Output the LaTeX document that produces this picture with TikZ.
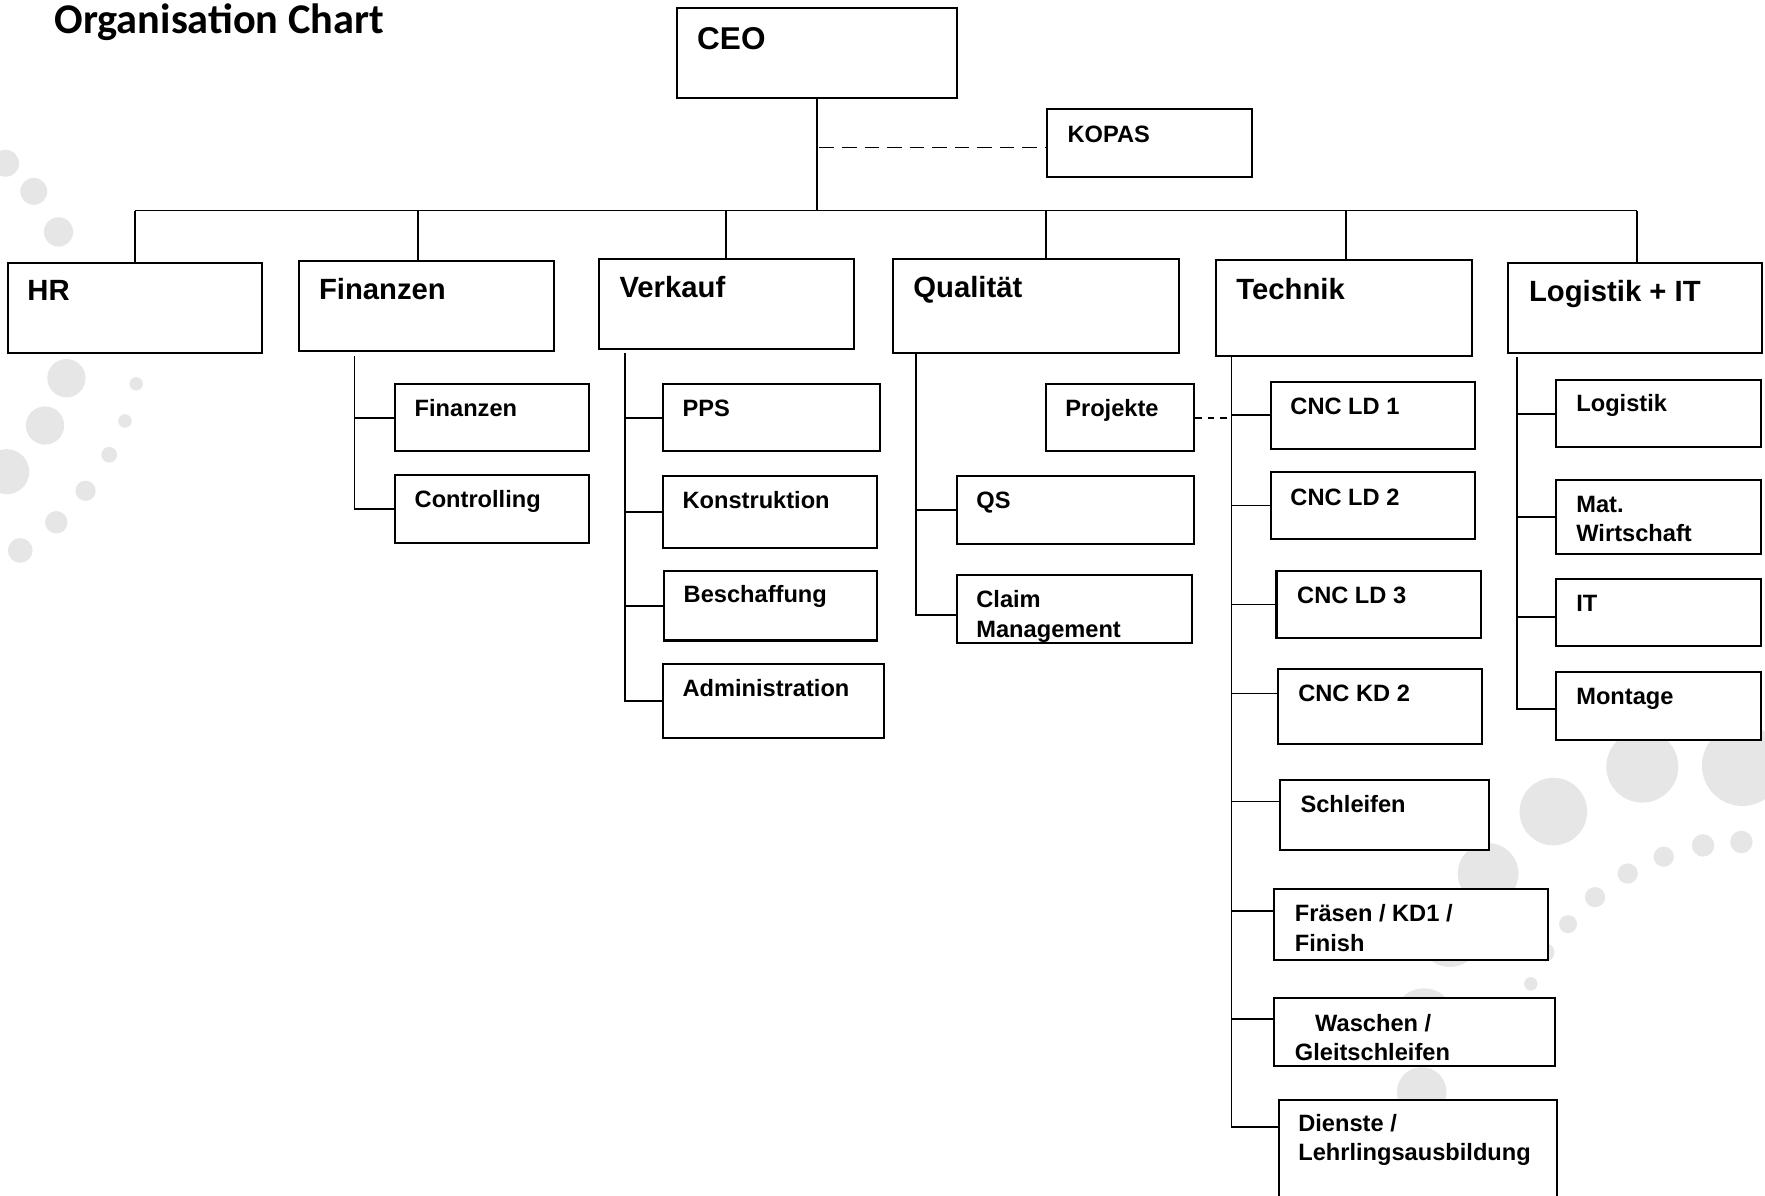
\documentclass[tikz,border=0pt]{standalone}
\usepackage{fontspec}
\setmainfont{Liberation Sans}
\newfontfamily\titlefont{Carlito}
\usetikzlibrary{fit}
\definecolor{dotgray}{HTML}{E6E6E6}
\newcommand\tl[1]{\begin{tabular}[t]{@{}l@{}}#1\end{tabular}}
\tikzset{
  box/.style={draw=black, line width=0.9pt, fill=white, inner sep=0pt},
  ceotxt/.style={anchor=base west, inner sep=0pt, font=\bfseries\fontsize{14}{17}\selectfont},
  head/.style={anchor=base west, inner sep=0pt, font=\bfseries\fontsize{13}{15.6}\selectfont},
  sub/.style={anchor=base west, inner sep=0pt, font=\bfseries\fontsize{10.5}{13}\selectfont},
  conn/.style={line width=0.8pt, draw=black},
  kdash/.style={conn, dash pattern=on 6.5pt off 3.5pt},
  pdash/.style={conn, dash pattern=on 3pt off 2.5pt},
}
\begin{document}
\begin{tikzpicture}[x=0.5pt,y=-0.5pt]
\useasboundingbox (0,0) rectangle (1568,1062);
\clip (0,0) rectangle (1568,1062);
% background dots
\foreach \cx/\cy/\r in {5/145/12, 30/170/12, 52/206/13, 59/336/17, 121/341/6, 40/378/17, 111/374/6, 6/419/20, 97/404/7, 76/436/9, 50/464/10, 18/489/11,
  1459/681/32, 1548/680/36, 1380/721/30, 1322/776/27, 1547/748/10, 1513/751/10, 1478/761/9, 1446/776/9, 1417/797/9, 1393/821/8, 1373/846/8, 1288/832/27, 1360/874/6, 1265/905/27, 1263/970/22}
  \fill[dotgray] (\cx,\cy) circle[radius=\r];

% title
\node[anchor=base west, inner sep=0pt, font=\titlefont\bfseries\fontsize{18.8}{22}\selectfont] (title) at (48,30) {Organisation Chart};

% boxes
\node[box, fit={(601,7)(850,87)}] (ceo) {};
\node[box, fit={(930,97)(1112,157)}] (kopas) {};
\node[box, fit={(7,234)(233,314)}] (hr) {};
\node[box, fit={(266,232)(492,312)}] (fin) {};
\node[box, fit={(532,230)(759,310)}] (vk) {};
\node[box, fit={(793,230)(1047,314)}] (ql) {};
\node[box, fit={(1080,231)(1308,316)}] (tk) {};
\node[box, fit={(1340,234)(1565,314)}] (lg) {};

\node[box, fit={(351,341)(523,401)}] (fsub) {};
\node[box, fit={(351,422)(523,482)}] (ctrl) {};
\node[box, fit={(589,341)(782,401)}] (pps) {};
\node[box, fit={(589,423)(779,487)}] (kon) {};
\node[box, fit={(590,507)(779,569)}] (bes) {};
\node[box, fit={(589,590)(785,656)}] (adm) {};
\node[box, fit={(929,341)(1061,401)}] (proj) {};
\node[box, fit={(850,423)(1061,483)}] (qs) {};
\node[box, fit={(850,511)(1059,571)}] (claim) {};
\node[box, fit={(1129,339)(1310,399)}] (cnc1) {};
\node[box, fit={(1129,419)(1310,479)}] (cnc2) {};
\node[box, fit={(1134,507)(1316,567)}] (cnc3) {};
\node[box, fit={(1135,594)(1317,661)}] (kd2) {};
\node[box, fit={(1137,693)(1323,755)}] (schl) {};
\node[box, fit={(1132,790)(1375,853)}] (fraes) {};
\node[box, fit={(1132,887)(1381,947)}] (wasch) {};
\node[box, fit={(1136,977)(1383,1085)}] (dien) {};
\node[box, fit={(1382,338)(1564,397)}] (logi) {};
\node[box, fit={(1382,426)(1564,492)}] (mat) {};
\node[box, fit={(1382,514)(1564,574)}] (it) {};
\node[box, fit={(1382,597)(1564,657)}] (mont) {};

% connector coordinates
\coordinate (busL) at (120,187);
\coordinate (busR) at (1454,187);
\coordinate (bfin) at (371,187);
\coordinate (bvk) at (645,187);
\coordinate (bql) at (929,187);
\coordinate (btk) at (1196,187);
\coordinate (kd) at (728,131);
\coordinate (finv) at (315,316);
\coordinate (vkv) at (555,314);
\coordinate (qlv) at (814,314);
\coordinate (tkv) at (1094,316);
\coordinate (lgv) at (1348,317);
\coordinate (claimin) at (850,546);
\coordinate (kd2in) at (1135,616);
\coordinate (schlin) at (1137,712);
\coordinate (fraesin) at (1132,809);
\coordinate (waschin) at (1132,905);
\coordinate (dienin) at (1136,1001);
\coordinate (itin) at (1382,548);
\coordinate (montin) at (1382,630);

% top connectors
\draw[conn] (ceo.south) -- (ceo.south |- busL);
\draw[conn] (busL) -- (busR);
\draw[kdash] (kd) -- (kd -| kopas.west);
\draw[conn] (busL) -- (busL |- hr.north);
\draw[conn] (bfin) -- (bfin |- fin.north);
\draw[conn] (bvk) -- (bvk |- vk.north);
\draw[conn] (bql) -- (bql |- ql.north);
\draw[conn] (btk) -- (btk |- tk.north);
\draw[conn] (busR) -- (busR |- lg.north);

% Finanzen
\draw[conn] (finv) |- (ctrl.west);
\draw[conn] (finv |- fsub.west) -- (fsub.west);
% Verkauf
\draw[conn] (vkv) |- (adm.west);
\draw[conn] (vkv |- pps.west) -- (pps.west);
\draw[conn] (vkv |- kon.west) -- (kon.west);
\draw[conn] (vkv |- bes.west) -- (bes.west);
% Qualitaet
\draw[conn] (qlv) |- (claimin);
\draw[conn] (qlv |- qs.west) -- (qs.west);
% Technik
\draw[conn] (tkv) |- (dienin);
\draw[conn] (tkv |- cnc1.west) -- (cnc1.west);
\draw[conn] (tkv |- cnc2.west) -- (cnc2.west);
\draw[conn] (tkv |- cnc3.west) -- (cnc3.west);
\draw[conn] (tkv |- kd2in) -- (kd2in);
\draw[conn] (tkv |- schlin) -- (schlin);
\draw[conn] (tkv |- fraesin) -- (fraesin);
\draw[conn] (tkv |- waschin) -- (waschin);
\draw[pdash] (proj.east) -- (proj.east -| tkv);
% Logistik
\draw[conn] (lgv) |- (montin);
\draw[conn] (lgv |- logi.west) -- (logi.west);
\draw[conn] (lgv |- mat.west) -- (mat.west);
\draw[conn] (lgv |- itin) -- (itin);

% texts
\node[ceotxt] (ceo-t) at (619,44) {CEO};
\node[sub] (kopas-t) at (948,127) {KOPAS};
\node[head] (hr-t) at (24,267) {HR};
\node[head] (fin-t) at (283,266) {Finanzen};
\node[head] (vk-t) at (550,264) {Verkauf};
\node[head] (ql-t) at (811,264) {Qualität};
\node[head] (tk-t) at (1098,266) {Technik};
\node[head] (lg-t) at (1358,268) {Logistik + IT};

\node[sub] (fsub-t) at (368,370) {Finanzen};
\node[sub] (ctrl-t) at (368,451) {Controlling};
\node[sub] (pps-t) at (606,370) {PPS};
\node[sub] (kon-t) at (606,452) {Konstruktion};
\node[sub] (bes-t) at (607,535) {Beschaffung};
\node[sub] (adm-t) at (606,619) {Administration};
\node[sub] (proj-t) at (946,370) {Projekte};
\node[sub] (qs-t) at (867,452) {QS};
\node[sub] (claim-t) at (867,540) {\tl{Claim\\Management}};
\node[sub] (cnc1-t) at (1146,368) {CNC LD 1};
\node[sub] (cnc2-t) at (1146,449) {CNC LD 2};
\node[sub] (cnc3-t) at (1152,536) {CNC LD 3};
\node[sub] (kd2-t) at (1153,623) {CNC KD 2};
\node[sub] (schl-t) at (1155,722) {Schleifen};
\node[sub] (fraes-t) at (1150,819) {\tl{Fräsen / KD1 /\\Finish}};
\node[sub] (wasch-t) at (1150,916) {\tl{\hspace*{9pt}Waschen /\\Gleitschleifen}};
\node[sub] (dien-t) at (1153,1005) {\tl{Dienste /\\Lehrlingsausbildung}};
\node[sub] (logi-t) at (1400,366) {Logistik};
\node[sub] (mat-t) at (1400,455) {\tl{Mat.\\Wirtschaft}};
\node[sub] (it-t) at (1400,543) {IT};
\node[sub] (mont-t) at (1400,626) {Montage};
\end{tikzpicture}
\end{document}
